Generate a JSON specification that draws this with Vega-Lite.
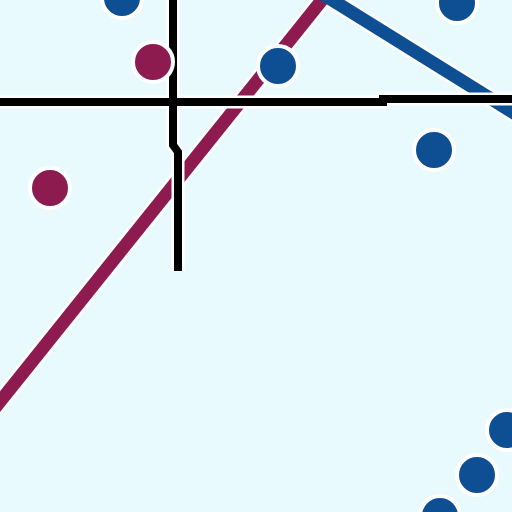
{
  "$schema": "https://vega.github.io/schema/vega-lite/v6.json",
  "width": 512,
  "height": 512,
  "autosize": {"type": "fit", "contains": "padding"},
  "padding": 0,
  "background": "#E9FAFF",
  "config": {"view": {"stroke": null}},
  "datasets": {
    "lines": [
      {"id": "crimson", "order": 1, "x": -10, "y": 414},
      {"id": "crimson", "order": 2, "x": 330, "y": -10},
      {"id": "blue", "order": 1, "x": 316, "y": -10},
      {"id": "blue", "order": 2, "x": 525, "y": 120},
      {"id": "hline", "order": 1, "x": -5, "y": 102},
      {"id": "hline", "order": 2, "x": 383, "y": 102},
      {"id": "hline", "order": 3, "x": 383, "y": 99},
      {"id": "hline", "order": 4, "x": 520, "y": 99},
      {"id": "vline", "order": 1, "x": 173, "y": -5},
      {"id": "vline", "order": 2, "x": 173, "y": 145},
      {"id": "vline", "order": 3, "x": 178, "y": 152},
      {"id": "vline", "order": 4, "x": 178, "y": 271}
    ],
    "points": [
      {"series": "blue", "x": 122, "y": -2},
      {"series": "blue", "x": 457, "y": 3},
      {"series": "blue", "x": 278, "y": 66},
      {"series": "blue", "x": 434, "y": 150},
      {"series": "blue", "x": 507, "y": 430},
      {"series": "blue", "x": 477, "y": 475},
      {"series": "blue", "x": 440, "y": 516},
      {"series": "crimson", "x": 153, "y": 62},
      {"series": "crimson", "x": 50, "y": 188}
    ]
  },
  "layer": [
    {
      "data": {"name": "lines"},
      "transform": [{"filter": "datum.id == 'crimson' || datum.id == 'blue'"}],
      "mark": {"type": "line", "clip": true, "color": "white", "strokeWidth": 18, "strokeCap": "butt"},
      "encoding": {
        "x": {"field": "x", "type": "quantitative", "scale": {"domain": [0, 512]}, "axis": null},
        "y": {"field": "y", "type": "quantitative", "scale": {"domain": [512, 0]}, "axis": null},
        "detail": {"field": "id"},
        "order": {"field": "order"}
      }
    },
    {
      "data": {"name": "lines"},
      "transform": [{"filter": "datum.id == 'crimson' || datum.id == 'blue'"}],
      "mark": {"type": "line", "clip": true, "strokeWidth": 13, "strokeCap": "butt"},
      "encoding": {
        "x": {"field": "x", "type": "quantitative", "scale": {"domain": [0, 512]}, "axis": null},
        "y": {"field": "y", "type": "quantitative", "scale": {"domain": [512, 0]}, "axis": null},
        "color": {"field": "id", "type": "nominal", "scale": {"domain": ["crimson", "blue"], "range": ["#8E1B50", "#0E4F94"]}, "legend": null},
        "order": {"field": "order"}
      }
    },
    {
      "data": {"name": "lines"},
      "transform": [{"filter": "datum.id == 'hline' || datum.id == 'vline'"}],
      "mark": {"type": "line", "clip": true, "color": "white", "strokeWidth": 13, "strokeCap": "butt", "strokeJoin": "miter"},
      "encoding": {
        "x": {"field": "x", "type": "quantitative", "scale": {"domain": [0, 512]}, "axis": null},
        "y": {"field": "y", "type": "quantitative", "scale": {"domain": [512, 0]}, "axis": null},
        "detail": {"field": "id"},
        "order": {"field": "order"}
      }
    },
    {
      "data": {"name": "lines"},
      "transform": [{"filter": "datum.id == 'hline' || datum.id == 'vline'"}],
      "mark": {"type": "line", "clip": true, "color": "#000000", "strokeWidth": 8, "strokeCap": "butt", "strokeJoin": "miter"},
      "encoding": {
        "x": {"field": "x", "type": "quantitative", "scale": {"domain": [0, 512]}, "axis": null},
        "y": {"field": "y", "type": "quantitative", "scale": {"domain": [512, 0]}, "axis": null},
        "detail": {"field": "id"},
        "order": {"field": "order"}
      }
    },
    {
      "data": {"name": "points"},
      "mark": {"type": "circle", "clip": true, "opacity": 1, "stroke": "white", "strokeWidth": 4, "size": 1600},
      "encoding": {
        "x": {"field": "x", "type": "quantitative", "scale": {"domain": [0, 512]}, "axis": null},
        "y": {"field": "y", "type": "quantitative", "scale": {"domain": [512, 0]}, "axis": null},
        "color": {"field": "series", "type": "nominal", "scale": {"domain": ["crimson", "blue"], "range": ["#8E1B50", "#0E4F94"]}, "legend": null}
      }
    }
  ]
}
